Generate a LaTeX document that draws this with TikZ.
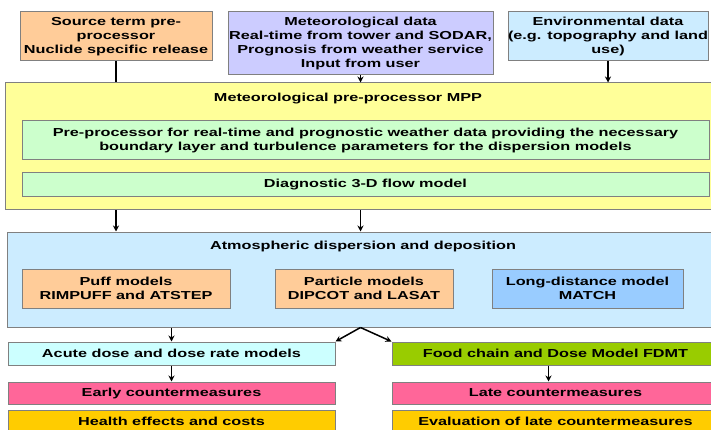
\documentclass[tikz,border=0pt]{standalone}
\usepackage{xcolor}
\usepackage{fontspec}
\setmainfont{Liberation Sans}[FakeStretch=1.4]
\usepackage{tikz}
\usetikzlibrary{positioning, arrows.meta}

\definecolor{boxline}{RGB}{128,128,128}
\definecolor{peach}{RGB}{255,204,153}
\definecolor{lavender}{RGB}{204,204,255}
\definecolor{paleblue}{RGB}{204,236,255}
\definecolor{paleyellow}{RGB}{255,255,153}
\definecolor{palegreen}{RGB}{204,255,204}
\definecolor{midblue}{RGB}{153,204,255}
\definecolor{palecyan}{RGB}{204,255,255}
\definecolor{olivegreen}{RGB}{153,204,0}
\definecolor{pinkred}{RGB}{255,102,153}
\definecolor{gold}{RGB}{255,204,0}

\begin{document}
\begin{tikzpicture}[
    x=1pt, y=-1pt,
    font=\fontsize{11.6}{14}\selectfont\bfseries,
    box/.style={rectangle, draw=boxline, line width=1pt, align=center, inner sep=0pt},
    link/.style={line width=1.5pt},
    arrow/.style={-{Stealth[length=6pt,width=6pt]}, line width=1.5pt}
]
\useasboundingbox (0,0) rectangle (711,430);
\clip (0,0) rectangle (711,430);

% input data
\node[box, fill=peach, minimum width=192pt, minimum height=49pt] (source) at (116,36.5)
{Source term pre-\\processor\\Nuclide specific release};
\node[box, fill=lavender, minimum width=265pt, minimum height=63pt] (met) at (360.5,43.5)
{Meteorological data\\Real-time from tower and SODAR,\\Prognosis from weather service\\Input from user};
\node[box, fill=paleblue, minimum width=200pt, minimum height=49pt] (env) at (608,36.5)
{Environmental data\\(e.g. topography and land\\use)};

% MPP
\node[box, fill=paleyellow, minimum width=720pt, minimum height=127pt] (mpp) at (365,146.5) {};
\node (mpptitle) at (348,99) {Meteorological pre-processor MPP};
\node[box, fill=palegreen, minimum width=687pt, minimum height=39pt] (pre) at (365.5,140.5)
{Pre-processor for real-time and prognostic weather data providing the necessary\\boundary layer and turbulence parameters for the dispersion models};
\node[box, fill=palegreen, minimum width=687pt, minimum height=24pt] (flow) at (365.5,185)
{Diagnostic 3-D flow model};

% dispersion
\node[box, fill=paleblue, minimum width=716pt, minimum height=95pt] (disp) at (365,279.5) {};
\node (disptitle) at (363,247) {Atmospheric dispersion and deposition};
\node[box, fill=peach, minimum width=208pt, minimum height=39pt] (puff) at (126,288.5)
{Puff models\\RIMPUFF and ATSTEP};
\node[box, fill=peach, minimum width=178pt, minimum height=39pt] (particle) at (364,288.5)
{Particle models\\DIPCOT and LASAT};
\node[box, fill=midblue, minimum width=191pt, minimum height=39pt] (longd) at (587.5,288.5)
{Long-distance model\\MATCH};

% dose and countermeasures
\node[box, fill=palecyan, minimum width=327pt, minimum height=23pt] (acute) at (171.5,353.5)
{Acute dose and dose rate models};
\node[box, fill=olivegreen, minimum width=327pt, minimum height=23pt] (fdmt) at (555.5,353.5)
{Food chain and Dose Model FDMT};
\node[box, fill=pinkred, minimum width=327pt, minimum height=22pt] (early) at (171.5,393)
{Early countermeasures};
\node[box, fill=pinkred, minimum width=327pt, minimum height=22pt] (late) at (555.5,393)
{Late countermeasures};
\node[box, fill=gold, minimum width=327pt, minimum height=22pt] (health) at (171.5,421)
{Health effects and costs};
\node[box, fill=gold, minimum width=327pt, minimum height=22pt] (evalu) at (555.5,421)
{Evaluation of late countermeasures};

\draw[link] (source.south) -- (source.south |- mpp.north);
\draw[arrow] (met.south) -- (met.south |- mpp.north);
\draw[arrow] (env.south) -- (env.south |- mpp.north);
\draw[arrow] (source.south |- mpp.south) -- (source.south |- disp.north);
\draw[arrow] (met.south |- mpp.south) -- (met.south |- disp.north);
\draw[arrow] (acute.north |- disp.south) -- (acute.north);
\draw[arrow] (met.south |- disp.south) -- (acute.north east);
\draw[arrow] (met.south |- disp.south) -- (fdmt.north west);
\draw[arrow] (acute) -- (early);
\draw[arrow] ([xshift=-7pt]fdmt.south) -- ([xshift=-7pt]late.north);
\end{tikzpicture}
\end{document}
